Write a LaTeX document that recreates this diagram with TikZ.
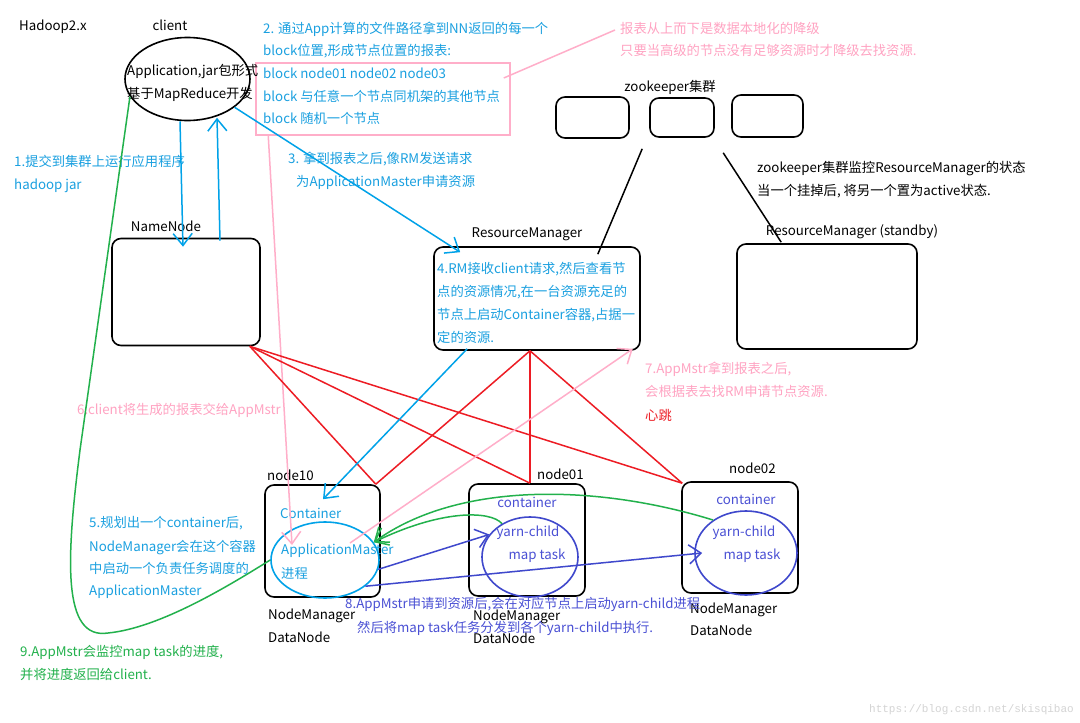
\documentclass[tikz,border=0pt]{standalone}
\usepackage{fontspec}
\setmainfont{Noto Sans CJK SC}
\newfontfamily\wmfont{Liberation Mono}
\usetikzlibrary{shapes.geometric,arrows.meta,calc}
\definecolor{lbl}{HTML}{00A2E8}
\definecolor{tbl}{HTML}{1AA0E0}
\definecolor{pk}{HTML}{FFAEC9}
\definecolor{pkt}{HTML}{FFA3C2}
\definecolor{rd}{HTML}{ED1C24}
\definecolor{gr}{HTML}{22B14C}
\definecolor{db}{HTML}{3F48CC}
\definecolor{dbt}{HTML}{4A50D4}
\definecolor{wm}{HTML}{D4D4D4}
\begin{document}
\begin{tikzpicture}[x=1pt,y=-1pt,
  txt/.style={anchor=west, inner sep=0pt, font=\fontsize{13.3}{16}\selectfont, text height=9.5pt, text depth=3pt},
  ctxt/.style={txt, anchor=center},
  box/.style={draw=black, line width=1.6pt, rounded corners=9pt, inner sep=0pt},
  ell/.style={ellipse, line width=1.6pt, inner sep=0pt},
  ln/.style={line width=1.5pt},
  tip/.style={-{Straight Barb[length=12pt,width=19pt]}},
]
\useasboundingbox (0,0) rectangle (1080,723);
\fill[white] (0,0) rectangle (1080,723);

% shapes
\node[ell, draw=black, minimum width=125pt, minimum height=83pt] (client) at (187.5,79) {};
\node[box, minimum width=148pt, minimum height=107pt] (nn) at (186,292) {};
\node[box, minimum width=206pt, minimum height=103pt] (rm) at (537,298.5) {};
\node[box, minimum width=180pt, minimum height=105pt] (rms) at (827,296.5) {};
\node[box, minimum width=73pt, minimum height=41pt] (zk1) at (592.5,117.5) {};
\node[box, minimum width=64pt, minimum height=39pt] (zk2) at (682,117.5) {};
\node[box, minimum width=71pt, minimum height=42pt] (zk3) at (767.5,116) {};
\node[box, minimum width=115pt, minimum height=112pt] (n10) at (322.5,541) {};
\node[box, minimum width=116pt, minimum height=112pt] (n01) at (527,540) {};
\node[box, minimum width=116pt, minimum height=111pt] (n02) at (740,537.5) {};
\node[ell, draw=lbl, minimum width=108pt, minimum height=76pt] (am) at (325,560) {};
\node[ell, draw=db, minimum width=96pt, minimum height=80pt] (yc1) at (530,557) {};
\node[ell, draw=db, minimum width=102pt, minimum height=84pt] (yc2) at (746,553) {};
\node[draw=pk, line width=1.5pt, minimum width=254pt, minimum height=72pt, inner sep=0pt] (rep) at (383,99) {};

% texts
\node[txt] (hd) at (19,27) {Hadoop2.x};
\node[ctxt] (cl) at (170,27) {client};
\node[txt] (ap1) at (127,72) {Application,jar包形式};
\node[txt] (ap2) at (127,95) {基于MapReduce开发};
\node[txt, text=tbl] (s1a) at (14,163) {1.提交到集群上运行应用程序};
\node[txt, text=tbl] (s1b) at (14,186) {hadoop jar};
\node[ctxt] (nnl) at (166,228) {NameNode};
\node[txt, text=tbl] (s2a) at (263,30) {2. 通过App计算的文件路径拿到NN返回的每一个};
\node[txt, text=tbl] (s2b) at (263,52) {block位置,形成节点位置的报表:};
\node[txt, text=tbl] (s2c) at (263,75) {block node01 node02 node03};
\node[txt, text=tbl] (s2d) at (263,98) {block 与任意一个节点同机架的其他节点};
\node[txt, text=tbl] (s2e) at (263,120) {block 随机一个节点};
\node[txt, text=pkt] (note1) at (620,30) {报表从上而下是数据本地化的降级};
\node[txt, text=pkt] (note2) at (620,52) {只要当高级的节点没有足够资源时才降级去找资源.};
\node[txt, text=tbl] (s3a) at (288,160) {3. 拿到报表之后,像RM发送请求};
\node[txt, text=tbl] (s3b) at (296,183) {为ApplicationMaster申请资源};
\node[ctxt] (zkl) at (670,88) {zookeeper集群};
\node[txt] (zka) at (757,169) {zookeeper集群监控ResourceManager的状态};
\node[txt] (zkb) at (757,192) {当一个挂掉后, 将另一个置为active状态.};
\node[ctxt] (rml) at (527,234) {ResourceManager};
\node[txt, text=tbl] (s4a) at (437,270) {4.RM接收client请求,然后查看节};
\node[txt, text=tbl] (s4b) at (437,293) {点的资源情况,在一台资源充足的};
\node[txt, text=tbl] (s4c) at (437,316) {节点上启动Container容器,占据一};
\node[txt, text=tbl] (s4d) at (437,339) {定的资源.};
\node[ctxt] (rmsl) at (852,232) {ResourceManager (standby)};
\node[txt, text=pkt] (s7a) at (645,370) {7.AppMstr拿到报表之后,};
\node[txt, text=pkt] (s7b) at (645,393) {会根据表去找RM申请节点资源.};
\node[txt, text=rd] (hb) at (645,417) {心跳};
\node[txt, text=pkt] (s6) at (77,411) {6.client将生成的报表交给AppMstr};
\node[txt] (n10l) at (267,477) {node10};
\node[txt, text=tbl] (ct10) at (280,515) {Container};
\node[txt, text=tbl] (aml) at (281,551) {ApplicationMaster};
\node[txt, text=tbl] (jc) at (281,575) {进程};
\node[txt] (nm10) at (268,616) {NodeManager};
\node[txt] (dn10) at (268,639) {DataNode};
\node[txt, text=tbl] (s5a) at (89,524) {5.规划出一个container后,};
\node[txt, text=tbl] (s5b) at (89,548) {NodeManager会在这个容器};
\node[txt, text=tbl] (s5c) at (89,570) {中启动一个负责任务调度的};
\node[txt, text=tbl] (s5d) at (89,592) {ApplicationMaster};
\node[txt] (n01l) at (537,476) {node01};
\node[ctxt, text=dbt] (ct01) at (527,504) {container};
\node[ctxt, text=dbt] (yl1) at (528,533) {yarn-child};
\node[ctxt, text=dbt] (mt1) at (537,556) {map task};
\node[txt] (nm01) at (473,617) {NodeManager};
\node[txt] (dn01) at (473,640) {DataNode};
\node[txt] (n02l) at (729,470) {node02};
\node[ctxt, text=dbt] (ct02) at (746,501) {container};
\node[ctxt, text=dbt] (yl2) at (744,533) {yarn-child};
\node[ctxt, text=dbt] (mt2) at (752,556) {map task};
\node[txt] (nm02) at (690,610) {NodeManager};
\node[txt] (dn02) at (690,632) {DataNode};
\node[txt, text=dbt] (s8a) at (345,605) {8.AppMstr申请到资源后,会在对应节点上启动yarn-child进程};
\node[txt, text=dbt] (s8b) at (357,629) {然后将map task任务分发到各个yarn-child中执行.};
\node[txt, text=gr] (s9a) at (20,653) {9.AppMstr会监控map task的进度,};
\node[txt, text=gr] (s9b) at (20,676) {并将进度返回给client.};
\node[anchor=east, inner sep=0pt, text=wm, font=\wmfont\fontsize{11}{13}\selectfont] (wm) at (1074,710) {https://blog.csdn.net/skisqibao};

% connectors
\draw[ln, lbl, tip] ($(client.south)+(-7.5,0)$) -- ($(nn.north)+(-3,9)$);
\draw[ln, lbl, tip] ($(nn.north)+(34,3)$) -- ($(client.south)+(29.5,-3.5)$);
\draw[ln, lbl, tip] (client.-31) -- ($(rm.north west)+(27,6)$);
\draw[ln, pk] ($(rep.east)+(-7,-21)$) -- ($(note1.west)+(-5,0)$);
\draw[ln, pk, tip] ($(rep.south west)+(13,0)$) -- ($(am.center)+(-33,-15)$);
\draw[line width=1.5pt] ($(zk2.south west)+(-7,11)$) -- ($(rm.north east)+(-43,8)$);
\draw[line width=1.5pt] ($(zk3.south west)+(-8,15)$) -- ($(rms.north west)+(45,-1)$);
\coordinate (nnR) at ($(nn.south east)+(-11,0)$);
\coordinate (rmB) at ($(rm.south)+(-7,0)$);
\coordinate (n10T) at ($(n10.north east)+(-5,0)$);
\coordinate (n01T) at ($(n01.north)+(3,0)$);
\coordinate (n02T) at ($(n02.north west)+(1,2)$);
\foreach \s in {nnR,rmB}{\foreach \t in {n10T,n01T,n02T}{\draw[ln, rd] (\s) -- (\t);}}
\draw[ln, pk, tip] ($(am.center)+(25,-17)$) -- ($(rm.south east)+(-8,-2)$);
\draw[ln, lbl, tip] ($(rm.south west)+(34,-2)$) -- ($(n10.north)+(0.5,15)$);
\draw[ln, gr] (client.197) -- (80,450) .. controls (66,560) and (62,640) .. (108,633) .. controls (160,628) and (230,585) .. (am.west);
\draw[ln, gr, tip] (yc1.130) .. controls (490,510) and (440,510) .. (am.20);
\draw[ln, gr, tip] (yc2.135) .. controls (600,485) and (460,480) .. (am.20);
\draw[ln, db, tip] (am.-10) -- (yc1.151);
\draw[ln, db, tip] (am.-33) -- ($(yc2.west)+(8,0)$);
\end{tikzpicture}
\end{document}
